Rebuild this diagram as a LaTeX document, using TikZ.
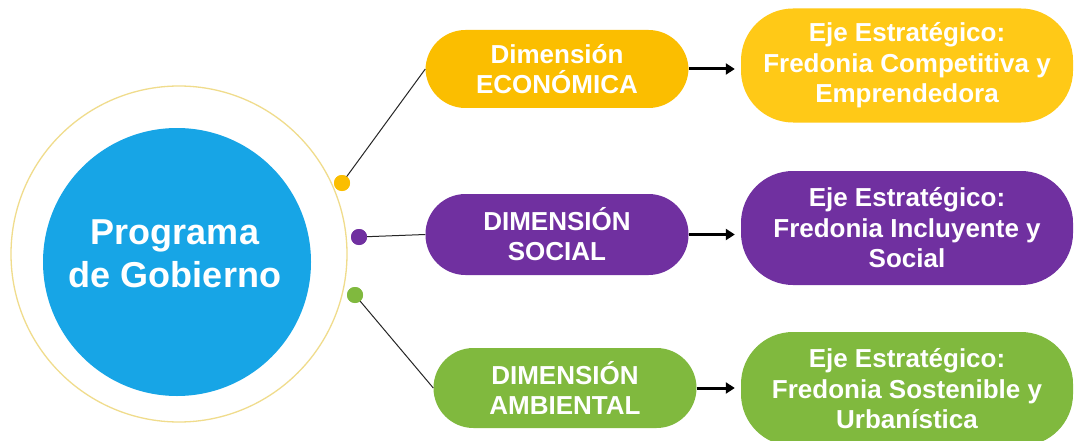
\documentclass[tikz,border=0pt]{standalone}
\usepackage{fontspec}
\setmainfont{Liberation Sans}
\usetikzlibrary{arrows.meta}
\definecolor{cblue}{HTML}{17A5E6}
\definecolor{cring}{HTML}{F0DC8C}
\definecolor{cyelD}{HTML}{FBBE00}
\definecolor{cyelE}{HTML}{FFC917}
\definecolor{cpur}{HTML}{7030A0}
\definecolor{cgrn}{HTML}{80B93E}
\tikzset{
  dimbox/.style={rounded corners=40pt, minimum width=263pt, minimum height=81pt, inner sep=0pt,
    text=white, align=center, font=\bfseries\fontsize{26}{30}\selectfont},
  ejebox/.style={rounded corners=52pt, minimum width=332pt, minimum height=114pt, inner sep=0pt,
    text=white, align=center, font=\bfseries\fontsize{26}{30.5}\selectfont},
  dot/.style={circle, minimum size=16pt, inner sep=0pt},
  link/.style={draw=black!85, line width=1pt},
  flow/.style={draw=black, line width=3pt, shorten >=6pt, -{Triangle[length=9pt,width=11pt]}}
}
\begin{document}
\begin{tikzpicture}[x=1pt,y=-1pt]
\useasboundingbox (0,0) rectangle (1075,441);
\fill[white] (0,0) rectangle (1075,441);
% central circle
\draw[cring, line width=1.3pt] (179,254) circle (168);
\node[circle, fill=cblue, minimum size=268pt, inner sep=0pt] (prog) at (177,262) {};
\node[text=white, align=center, font=\bfseries\fontsize{36}{43}\selectfont] (progtext) at (175,254) {Programa\\de Gobierno};
% dots
\node[dot, fill=cyelD] (d1) at (342,183) {};
\node[dot, fill=cpur] (d2) at (359,237) {};
\node[dot, fill=cgrn] (d3) at (355,295) {};
% dimension boxes
\node[dimbox, fill=cyelD, minimum height=78pt] (dimE) at (557,69) {Dimensión\\ECONÓMICA};
\node[dimbox, fill=cpur] (dimS) at (557,234.5) {DIMENSIÓN\\SOCIAL};
\node[dimbox, fill=cgrn, minimum height=80pt] (dimA) at (565,388) {DIMENSIÓN\\AMBIENTAL};
% eje boxes
\node[ejebox, fill=cyelE] (ejeE) at (907,65.5) {Eje Estratégico:\\Fredonia Competitiva y\\Emprendedora};
\node[ejebox, fill=cpur] (ejeS) at (907,228) {Eje Estratégico:\\Fredonia Incluyente y\\Social};
\node[ejebox, fill=cgrn] (ejeA) at (907,389) {Eje Estratégico:\\Fredonia Sostenible y\\Urbanística};
% links
\draw[link] (d1.center) -- (dimE.west);
\draw[link] (d2.center) -- (dimS.west);
\draw[link] (d3.center) -- (dimA.west);
\fill[cyelD] (d1) circle (8);
\fill[cpur] (d2) circle (8);
\fill[cgrn] (d3) circle (8);
% arrows
\draw[flow] (dimE.east) -- (ejeE.west |- dimE.east);
\draw[flow] (dimS.east) -- (ejeS.west |- dimS.east);
\draw[flow] (dimA.east) -- (ejeA.west |- dimA.east);
\end{tikzpicture}
\end{document}
